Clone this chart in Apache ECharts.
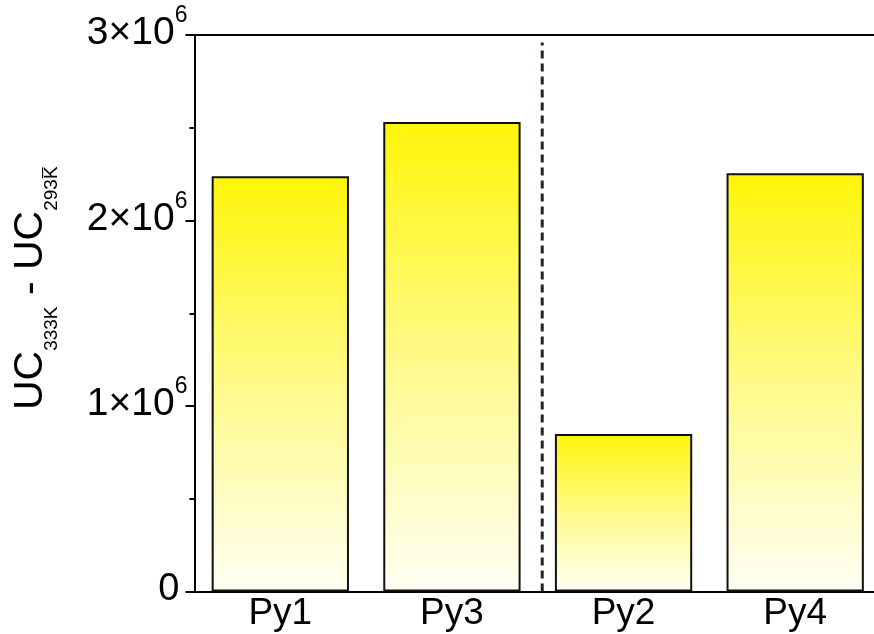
<!DOCTYPE html>
<html>
<head>
<meta charset="utf-8">
<script src="https://cdn.jsdelivr.net/npm/echarts@6/dist/echarts.min.js"></script>
<style>
html,body{margin:0;padding:0;background:#fff;}
#chart{width:874px;height:634px;}
</style>
</head>
<body>
<div id="chart"></div>
<script>
const categories = ['Py1', 'Py3', 'Py2', 'Py4'];
const values = [2239000, 2531000, 849000, 2255000];
const yTicks = [0, 1000000, 2000000, 3000000];
const dividerX = 2.026;      // position of dashed separator, in category units
const dividerTop = 2960000;

const FONT = 'Liberation Sans, Arial, sans-serif';
const chart = echarts.init(document.getElementById('chart'), null, {renderer: 'canvas'});

const gradient = {
  type: 'linear', x: 0, y: 0, x2: 0, y2: 1,
  colorStops: [
    {offset: 0, color: '#fff508'},
    {offset: 0.5, color: '#fffa88'},
    {offset: 1, color: '#fffff4'}
  ]
};

chart.setOption({
  animation: false,
  backgroundColor: '#ffffff',
  grid: {left: 194.5, right: -7, top: 35, bottom: 42.5, containLabel: false, outerBoundsMode: 'none'},
  xAxis: [
    {
      type: 'category',
      data: categories,
      position: 'bottom',
      axisLine: {show: true, lineStyle: {color: '#000', width: 2}},
      axisTick: {show: false},
      axisLabel: {fontFamily: FONT, fontSize: 37, color: '#000', margin: 4},
      splitLine: {show: false}
    },
    {
      type: 'value',
      min: 0, max: 4,
      position: 'top',
      axisLine: {show: true, onZero: false, lineStyle: {color: '#000', width: 2}},
      axisTick: {show: false},
      axisLabel: {show: false},
      splitLine: {show: false}
    }
  ],
  yAxis: {
    type: 'value',
    min: 0, max: 3000000, interval: 1000000,
    axisLine: {show: true, lineStyle: {color: '#000', width: 2}},
    axisTick: {show: true, length: 9, lineStyle: {color: '#000', width: 2}},
    minorTick: {show: true, splitNumber: 2, length: 5, lineStyle: {color: '#000', width: 2}},
    splitLine: {show: false},
    axisLabel: {
      margin: 7,
      padding: [0, 0, 3, 0],
      formatter: function (v) {
        if (v === 0) return '{z|0}';
        return '{a|' + (v / 1000000) + '×10}{s|6}';
      },
      rich: {
        z: {fontFamily: FONT, fontSize: 38, color: '#000', lineHeight: 48, padding: [0, 8, 0, 0]},
        a: {fontFamily: FONT, fontSize: 39, color: '#000', lineHeight: 58, verticalAlign: 'middle'},
        s: {fontFamily: FONT, fontSize: 23, color: '#000', lineHeight: 24, verticalAlign: 'top'}
      }
    },
    name: '{m|UC}{b|333K}{m| - UC}{b|293K\u0305}',
    nameLocation: 'middle',
    nameRotate: 90,
    nameGap: 133,
    nameTextStyle: {
      padding: [0, 0, 0, 50],
      rich: {
        m: {fontFamily: FONT, fontSize: 41, color: '#000', lineHeight: 62, verticalAlign: 'middle'},
        b: {fontFamily: FONT, fontSize: 19, color: '#000', lineHeight: 20, verticalAlign: 'bottom'}
      }
    }
  },
  series: [
    {
      type: 'bar',
      data: values,
      barWidth: '80%',
      itemStyle: {color: gradient, borderColor: '#111', borderWidth: 2}
    },
    {
      type: 'line',
      xAxisIndex: 1,
      data: [[dividerX, 0], [dividerX, dividerTop]],
      symbol: 'none',
      lineStyle: {color: '#2a2020', width: 3, type: [8, 5]},
      z: 5
    }
  ]
});
</script>
</body>
</html>
